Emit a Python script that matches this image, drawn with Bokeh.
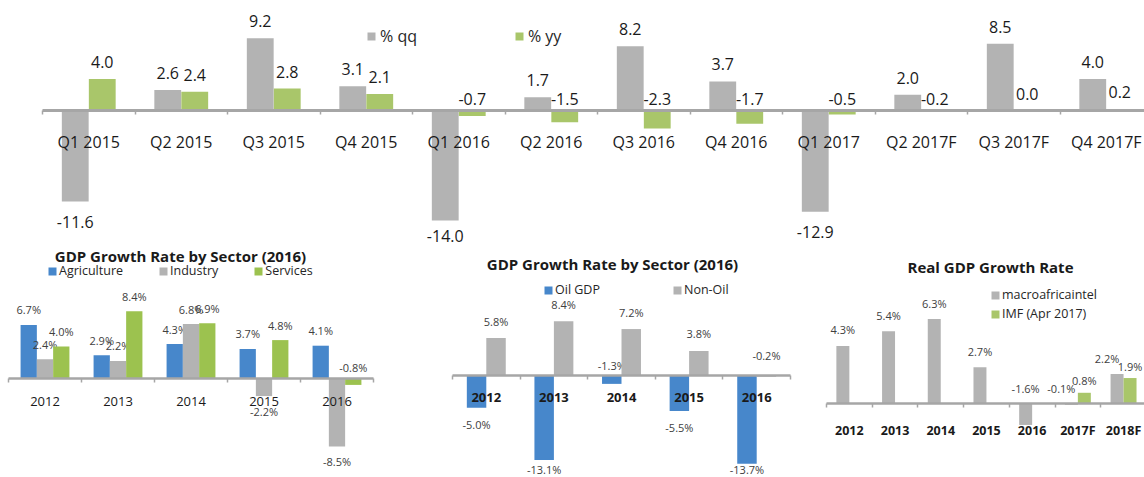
from bokeh.plotting import figure
from bokeh.models import (ColumnDataSource, LinearAxis, FixedTicker, Range1d,
                          Legend, LegendItem, Label)
from bokeh.layouts import row, column
from bokeh.transform import dodge
from bokeh.embed import file_html
from bokeh.resources import INLINE
from bokeh.core.properties import value

FONT = "Open Sans"
NAN = float("nan")

# ---------------- data ----------------
quarters = ["Q1 2015", "Q2 2015", "Q3 2015", "Q4 2015", "Q1 2016", "Q2 2016",
            "Q3 2016", "Q4 2016", "Q1 2017", "Q2 2017F", "Q3 2017F", "Q4 2017F"]
qq = [-11.6, 2.6, 9.2, 3.1, -14.0, 1.7, 8.2, 3.7, -12.9, 2.0, 8.5, 4.0]
yy = [4.0, 2.4, 2.8, 2.1, -0.7, -1.5, -2.3, -1.7, -0.5, -0.2, 0.0, 0.2]

sector_years = ["2012", "2013", "2014", "2015", "2016"]
agriculture = [6.7, 2.9, 4.3, 3.7, 4.1]
industry = [2.4, 2.2, 6.8, -2.2, -8.5]
services = [4.0, 8.4, 6.9, 4.8, -0.8]

oil_years = ["2012", "2013", "2014", "2015", "2016"]
oil_gdp = [-5.0, -13.1, -1.3, -5.5, -13.7]
non_oil = [5.8, 8.4, 7.2, 3.8, -0.2]

real_years = ["2012", "2013", "2014", "2015", "2016", "2017F", "2018F"]
macroafricaintel = [4.3, 5.4, 6.3, 2.7, -1.6, -0.1, 2.2]
imf_apr2017 = [NAN, NAN, NAN, NAN, NAN, 0.8, 1.9]

GRAY = "#b3b3b3"
GREEN = "#a9c66a"
GREEN2 = "#9cc24f"
BLUE = "#4787cb"
AXIS = "#a6a6a6"

GEOM = {}


def make_fig(width, height, cat_px, left_px, zero_px, ppu):
    x0 = -left_px / cat_px - 0.5
    x1 = (width - left_px) / cat_px - 0.5
    y1 = zero_px / ppu
    y0 = -(height - zero_px) / ppu
    p = figure(width=width, height=height, x_range=Range1d(x0, x1),
               y_range=Range1d(y0, y1), output_backend="svg",
               toolbar_location=None, x_axis_location=None,
               y_axis_location=None, min_border=0, outline_line_color=None)
    p.background_fill_color = "white"
    p.border_fill_color = "white"
    p.grid.visible = False
    GEOM[id(p)] = (height, zero_px, ppu)
    return p


def add_axes(p, cats, lab_size, lab_bold, standoff, axis_w=2.5):
    n = len(cats)
    line_axis = LinearAxis(
        ticker=FixedTicker(ticks=[i - 0.5 for i in range(n + 1)]),
        fixed_location=0, bounds=(-0.5, n - 0.5),
        axis_line_color=AXIS, axis_line_width=axis_w,
        major_tick_line_color=AXIS, major_tick_line_width=1.5,
        major_tick_out=4, major_tick_in=0,
        minor_tick_line_color=None,
        major_label_text_alpha=0, major_label_text_font_size="1px")
    p.add_layout(line_axis, "below")
    lab_axis = LinearAxis(
        ticker=FixedTicker(ticks=list(range(n))),
        fixed_location=0, axis_line_color=None,
        major_tick_line_color=None, minor_tick_line_color=None,
        major_label_overrides={i: c for i, c in enumerate(cats)},
        major_label_standoff=standoff,
        major_label_text_font=FONT,
        major_label_text_font_size=lab_size,
        major_label_text_font_style="bold" if lab_bold else "normal",
        major_label_text_color="#1a1a1a")
    p.add_layout(lab_axis, "below")


def add_series(p, vals, offset, bar_w, color, fmt, up_px, down_px,
               small_thr, zero_up_px, font_size, text_color,
               partner=None, pair_shift=0):
    height, zero_px, ppu = GEOM[id(p)]
    fs = float(font_size.replace("px", ""))
    src = ColumnDataSource(dict(idx=list(range(len(vals))), v=vals))
    r = p.vbar(x=dodge("idx", offset, range=p.x_range), top="v", bottom=0,
               width=bar_w, fill_color=color, line_color=None, source=src)
    lx, ly, lo, lxo, lt = [], [], [], [], []
    for i, v in enumerate(vals):
        if v != v:
            continue
        lx.append(i)
        lt.append(fmt.format(v))
        # spread labels apart when the other series also has a value here
        if partner is not None and partner[i] == partner[i]:
            lxo.append(pair_shift)
        else:
            lxo.append(0)
        if v >= 0:
            ly.append(v)
            lo.append(-up_px)
        elif v > small_thr:
            ly.append(0)
            lo.append(-zero_up_px)
        else:
            ly.append(v)
            off = down_px
            py = zero_px - v * ppu
            limit = height - 0.75 * fs
            if py + off > limit:
                off = limit - py
            lo.append(off)
    lsrc = ColumnDataSource(dict(x=lx, y=ly, o=lo, xo=lxo, t=lt))
    p.text(x=dodge("x", offset, range=p.x_range), y="y", y_offset="o",
           x_offset="xo", text="t", source=lsrc, text_align="center",
           text_baseline="middle", text_font=value(FONT),
           text_font_size=value(font_size), text_color=text_color)
    return r


def add_legend(p, items, loc, orientation, spacing, standoff, font_size):
    lg = Legend(items=[LegendItem(label=lab, renderers=[r]) for lab, r in items],
                location=loc, orientation=orientation, spacing=spacing,
                label_standoff=standoff, glyph_width=10, glyph_height=10,
                label_height=14, padding=0, margin=0,
                border_line_color=None, background_fill_alpha=0,
                label_text_font=FONT, label_text_font_size=font_size,
                label_text_color="#262626")
    p.add_layout(lg)


def add_title(p, text, x, y):
    p.add_layout(Label(x=x, y=y, x_units="screen", y_units="screen",
                       text=text, text_align="center", text_baseline="middle",
                       text_font=FONT, text_font_style="bold",
                       text_font_size="15px", text_color="#1a1a1a"))


# ---------------- top chart ----------------
TOP_H = 247
top = make_fig(1144, TOP_H, 92.5, 42, 110, 7.85)
r_qq = add_series(top, qq, -0.146, 0.29, GRAY, "{:.1f}", 17, 20, -3, 12,
                  "16px", "#1a1a1a")
r_yy = add_series(top, yy, 0.146, 0.29, GREEN, "{:.1f}", 17, 20, -3, 12,
                  "16px", "#1a1a1a")
add_axes(top, quarters, "16px", False, 14, 3)
add_legend(top, [("% qq", r_qq), ("% yy", r_yy)], (366, 200), "horizontal",
           97, 4, "16px")

BOT_H = 230

# ---------------- bottom left ----------------
bl = make_fig(420, BOT_H, 73, 8, 131, 8.0)
r_a = add_series(bl, agriculture, -0.223, 0.223, BLUE, "{:.1f}%", 15, 15, -1,
                 11, "11px", "#404040")
r_i = add_series(bl, industry, 0.0, 0.223, GRAY, "{:.1f}%", 15, 15, -1,
                 11, "11px", "#404040")
r_s = add_series(bl, services, 0.223, 0.223, GREEN2, "{:.1f}%", 15, 15, -1,
                 11, "11px", "#404040")
add_axes(bl, sector_years, "13px", False, 12)
add_legend(bl, [("Agriculture", r_a), ("Industry", r_i), ("Services", r_s)],
           (47, 198), "horizontal", 35, 2, "12.5px")
add_title(bl, "GDP Growth Rate by Sector (2016)", 180, 222)

# ---------------- bottom middle ----------------
bm = make_fig(380, BOT_H, 67.6, 32, 128, 6.45)
r_o = add_series(bm, oil_gdp, -0.144, 0.288, BLUE, "{:.1f}%", 17, 17, -2,
                 10, "11px", "#404040")
r_n = add_series(bm, non_oil, 0.144, 0.288, GRAY, "{:.1f}%", 17, 17, -2,
                 20, "11px", "#404040")
add_axes(bm, oil_years, "13px", True, 11)
add_legend(bm, [("Oil GDP", r_o), ("Non-Oil", r_n)], (123, 179),
           "horizontal", 72, 2, "12.5px")
add_title(bm, "GDP Growth Rate by Sector (2016)", 192, 214)

# ---------------- bottom right ----------------
br = make_fig(344, BOT_H, 45.7, 26, 156, 13.4)
r_m = add_series(br, macroafricaintel, -0.142, 0.284, GRAY, "{:.1f}%", 16, 16,
                 -2, 15, "11px", "#404040", partner=imf_apr2017, pair_shift=-10)
r_f = add_series(br, imf_apr2017, 0.142, 0.284, GREEN, "{:.1f}%", 12, 16,
                 -2, 15, "11px", "#404040", partner=macroafricaintel,
                 pair_shift=0)
add_axes(br, real_years, "12.5px", True, 12)
add_legend(br, [("macroafricaintel", r_m), ("IMF (Apr 2017)", r_f)],
           (190, 155), "vertical", 2, 2, "12.5px")
add_title(br, "Real GDP Growth Rate", 190, 211)

layout = column(top, row(bl, bm, br))

open("out.html", "w").write(file_html(layout, INLINE))
